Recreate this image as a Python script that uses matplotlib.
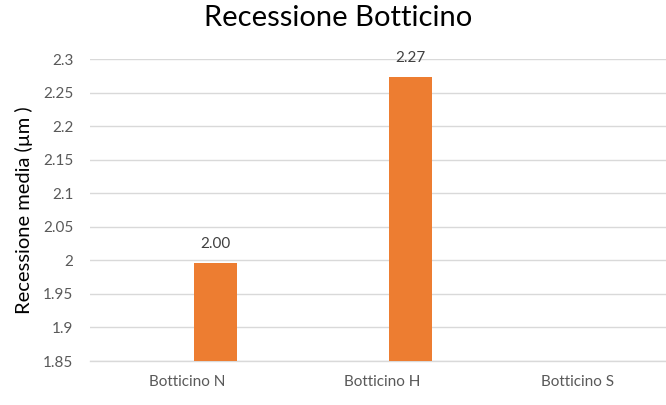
import math
import matplotlib
matplotlib.use("Agg")
import matplotlib.pyplot as plt
from matplotlib.ticker import FuncFormatter
import numpy as np

plt.rcParams['font.family'] = ['Lato', 'DejaVu Sans']

categories = ["Botticino N", "Botticino H", "Botticino S"]
recession = [1.996, 2.273, float("nan")]   # no measurement for S
y_ticks = [1.85, 1.9, 1.95, 2.0, 2.05, 2.1, 2.15, 2.2, 2.25, 2.3]

BAR_COLOR = "#ED7D31"
GRID_COLOR = "#D9D9D9"
TEXT_GRAY = "#595959"

fig = plt.figure(figsize=(6.66, 4.05), dpi=100)
ax = fig.add_axes([0.135, 0.1086, 0.865, 0.7450])

x = np.arange(len(categories))
bar_w = 0.225
offset = 0.144
ax.bar(x + offset, recession, width=bar_w, color=BAR_COLOR, zorder=3)

for xi, val in zip(x, recession):
    if math.isnan(val):
        continue
    ax.annotate(f"{val:.2f}", (xi + offset, val), xytext=(0, 9),
                textcoords="offset points", ha="center", va="bottom",
                fontsize=11, color="#404040")

ax.set_ylim(1.85, 2.3)
ax.set_xlim(-0.5, 2.454)
ax.set_yticks(y_ticks)
ax.yaxis.set_major_formatter(FuncFormatter(lambda v, _: f"{v:g}"))
ax.set_xticks(x)
ax.set_xticklabels(categories)

ax.grid(axis="y", color=GRID_COLOR, linewidth=1.0, zorder=0)
for side in ["top", "right", "left"]:
    ax.spines[side].set_visible(False)
ax.spines["bottom"].set_color(GRID_COLOR)
ax.spines["bottom"].set_linewidth(1.0)
ax.tick_params(axis="both", length=0, labelsize=11, colors=TEXT_GRAY)
ax.tick_params(axis="y", pad=12)
ax.tick_params(axis="x", pad=10)

ax.set_ylabel("Recessione media (µm )", fontsize=14.5, color="black", labelpad=7)
fig.text(0.508, 0.955, "Recessione Botticino", ha="center", va="center",
         fontsize=21, color="black")

fig.savefig("out.png", dpi=100)
